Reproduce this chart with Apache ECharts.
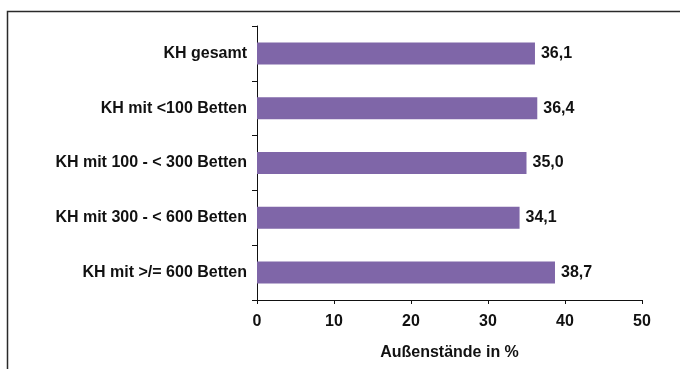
<!DOCTYPE html>
<html>
<head>
<meta charset="utf-8">
<script src="https://cdn.jsdelivr.net/npm/echarts@6/dist/echarts.min.js"></script>
<style>
  html, body { margin: 0; padding: 0; background: #fff; }
  #chart { width: 680px; height: 369px; }
</style>
</head>
<body>
<div id="chart"></div>
<script>
// Hospital groups (by bed count) and their outstanding receivables share
const categories = [
  'KH gesamt',
  'KH mit <100 Betten',
  'KH mit 100 - < 300 Betten',
  'KH mit 300 - < 600 Betten',
  'KH mit >/= 600 Betten'
];
const values = [36.1, 36.4, 35.0, 34.1, 38.7];
const xTicks = [0, 10, 20, 30, 40, 50];
const xAxisTitle = 'Außenstände in %';

const FONT = '"Liberation Sans", Arial, Helvetica, sans-serif';
const TXT = { fontFamily: FONT, fontWeight: 'bold', fontSize: 16, color: '#111' };
const chart = echarts.init(document.getElementById('chart'), null, { renderer: 'canvas' });

chart.setOption({
  animation: false,
  backgroundColor: '#ffffff',
  graphic: [{
    type: 'rect',
    shape: { x: 7.5, y: 11.5, width: 720, height: 420 },
    style: { fill: 'none', stroke: '#2a2a2a', lineWidth: 1.5 },
    silent: true
  }],
  grid: { left: 257, right: 38, top: 26, bottom: 69, containLabel: false },
  xAxis: {
    type: 'value',
    min: xTicks[0],
    max: xTicks[xTicks.length - 1],
    interval: 10,
    name: xAxisTitle,
    nameLocation: 'middle',
    nameGap: 45,
    nameTextStyle: TXT,
    axisLine: { show: true, lineStyle: { color: '#111', width: 1 } },
    axisTick: { show: true, length: 4, lineStyle: { color: '#111', width: 1 } },
    axisLabel: Object.assign({ margin: 14 }, TXT),
    splitLine: { show: false }
  },
  yAxis: {
    type: 'category',
    data: categories,
    inverse: true,
    axisLine: { show: true, lineStyle: { color: '#111', width: 1 } },
    axisTick: { show: true, length: 5, lineStyle: { color: '#111', width: 1 } },
    axisLabel: Object.assign({ margin: 10 }, TXT),
    splitLine: { show: false }
  },
  series: [{
    type: 'bar',
    data: values,
    barWidth: 22,
    itemStyle: { color: '#7f66a8' },
    label: Object.assign({
      show: true,
      position: 'right',
      distance: 6,
      formatter: p => p.value.toFixed(1).replace('.', ',')
    }, TXT)
  }]
});
</script>
</body>
</html>
